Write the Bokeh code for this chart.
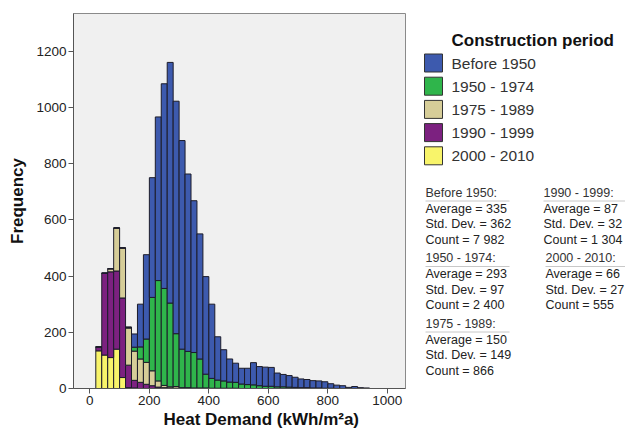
import numpy as np
from bokeh.plotting import figure
from bokeh.layouts import row
from bokeh.models import Range1d, ColumnDataSource, Title, FixedTicker
from bokeh.core.properties import value
from bokeh.embed import file_html
from bokeh.resources import INLINE

# ---------------- data ----------------
bin_width = 20
bin_start = list(range(20, 940, 20))  # 20 .. 920

before_1950 = [0, 0, 0, 0, 0, 0, 47, 152, 300, 426, 582, 728, 856, 827, 742, 631,
               540, 445, 347, 264, 154, 111, 82, 68, 56, 58, 79, 68, 68, 67, 49, 44,
               41, 36, 31, 29, 26, 25, 23, 16, 12, 10, 4, 7, 3, 2]
p1950_1974 = [0, 0, 0, 0, 0, 3, 14, 43, 83, 261, 357, 345, 298, 188, 137, 129,
              126, 103, 49, 35, 29, 26, 22, 21, 16, 14, 13, 10, 8, 8, 6, 6,
              5, 4, 3, 3, 2, 2, 1, 1, 0, 0, 0, 0, 0, 0]
p1975_1989 = [0, 0, 11, 153, 178, 132, 104, 83, 78, 53, 22, 8, 4, 6, 3, 3,
              2, 2, 2, 1, 1, 1, 1, 1, 0, 0, 0, 0, 0, 0, 0, 0,
              0, 0, 0, 0, 0, 0, 0, 0, 0, 0, 0, 0, 0, 0]
p1990_1999 = [14, 291, 305, 278, 283, 80, 27, 22, 15, 10, 5, 3, 2, 1, 0, 0,
              0, 0, 0, 0, 0, 0, 0, 0, 0, 0, 0, 0, 0, 0, 0, 0,
              0, 0, 0, 0, 0, 0, 0, 0, 0, 0, 0, 0, 0, 0]
p2000_2010 = [134, 119, 110, 140, 39, 3, 2, 0, 0, 0, 0, 0, 0, 0, 0, 0,
              0, 0, 0, 0, 0, 0, 0, 0, 0, 0, 0, 0, 0, 0, 0, 0,
              0, 0, 0, 0, 0, 0, 0, 0, 0, 0, 0, 0, 0, 0]

periods = ["Before 1950", "1950 - 1974", "1975 - 1989", "1990 - 1999", "2000 - 2010"]
colors = ["#3d5aae", "#2fb54b", "#d6cd98", "#7c2180", "#f8f46a"]

stat_average = [335, 293, 150, 87, 66]
stat_std = [362, 97, 149, 32, 27]
stat_count = [7982, 2400, 866, 1304, 555]

x_ticks = [0, 200, 400, 600, 800, 1000]
y_ticks = [0, 200, 400, 600, 800, 1000, 1200]

FONT = "Liberation Sans"

# ---------------- main histogram ----------------
src = ColumnDataSource(dict(
    x=[b + bin_width / 2 for b in bin_start],
    s0=p2000_2010, s1=p1990_1999, s2=p1975_1989, s3=p1950_1974, s4=before_1950,
))

p = figure(width=408, height=428, x_range=Range1d(-55, 1061), y_range=Range1d(0, 1334),
           output_backend="svg", toolbar_location=None,
           min_border_left=73, min_border_right=3, min_border_top=13, min_border_bottom=40)
p.background_fill_color = "#f0f0f0"
p.border_fill_color = "white"
p.outline_line_color = "#8a8a8a"
p.grid.visible = False

stack_cols = ["s0", "s1", "s2", "s3", "s4"]
stack_colors = [colors[4], colors[3], colors[2], colors[1], colors[0]]
p.vbar_stack(stack_cols, x="x", width=bin_width, source=src,
             fill_color=stack_colors, line_color="#1c1c2a", line_width=1)

for ax in (p.xaxis, p.yaxis):
    ax.minor_tick_line_color = None
    ax.major_tick_in = 0
    ax.major_tick_out = 5
    ax.axis_line_color = "#555555"
    ax.major_tick_line_color = "#555555"
    ax.major_label_text_font = FONT
    ax.major_label_text_font_size = "13.5px"
    ax.major_label_text_color = "#222222"
    ax.major_label_standoff = 2

p.xaxis.ticker = FixedTicker(ticks=x_ticks)
p.yaxis.ticker = FixedTicker(ticks=y_ticks)

p.yaxis.axis_label = "Frequency"
p.yaxis.axis_label_text_font = FONT
p.yaxis.axis_label_text_font_style = "bold"
p.yaxis.axis_label_text_font_size = "17px"
p.yaxis.axis_label_text_color = "#111111"
p.yaxis.axis_label_standoff = 6

p.add_layout(Title(text="Heat Demand (kWh/m\u00b2a)", align="left", offset=90, standoff=0,
                   text_font=FONT, text_font_style="bold", text_font_size="17px",
                   text_color="#111111"), "below")

# ---------------- legend + statistics panel ----------------
# frame of this panel is aligned with the histogram frame (page y 13..388)
p2 = figure(width=217, height=428, x_range=Range1d(408, 625), y_range=Range1d(388, 13),
            output_backend="svg", toolbar_location=None,
            x_axis_location=None, y_axis_location=None,
            min_border_left=0, min_border_right=0, min_border_top=13, min_border_bottom=40)
p2.outline_line_color = None
p2.grid.visible = False
p2.background_fill_color = "white"
p2.border_fill_color = "white"

# legend
leg_y0, leg_dy = 62.5, 23.2
leg_y = [leg_y0 + i * leg_dy for i in range(len(periods))]
p2.text(x=[451], y=[40], text=["Construction period"], text_font=value(FONT),
        text_font_style="bold", text_font_size="17px", text_color="#111111",
        text_baseline="middle", text_align="left")
p2.rect(x=[433] * len(periods), y=leg_y, width=18, height=18,
        fill_color=colors, line_color="#333333", line_width=1)
p2.text(x=[451] * len(periods), y=leg_y, text=periods, text_font=value(FONT),
        text_font_size="15.5px", text_color="#333333",
        text_baseline="middle", text_align="left")

# statistics blocks
block_x = [425, 425, 425, 543, 545]
block_y = [192, 257.5, 323, 192, 257.5]
tx, ty, tt = [], [], []
hx, hy, ht = [], [], []
ux0, ux1, uy = [], [], []
for i in range(len(periods)):
    bx, by = block_x[i], block_y[i]
    hx.append(bx); hy.append(by); ht.append(periods[i] + ":")
    ux0.append(bx); ux1.append(bx + 84); uy.append(by + 8.5)
    cnt = f"{stat_count[i]:,}".replace(",", " ")
    lines = [f"Average = {stat_average[i]}", f"Std. Dev. = {stat_std[i]}", f"Count = {cnt}"]
    for k, s in enumerate(lines):
        tx.append(bx); ty.append(by + 16 + k * 15.5); tt.append(s)

p2.segment(x0=ux0, y0=uy, x1=ux1, y1=uy, line_color="#c8c8c8", line_width=1)
p2.text(x=hx, y=hy, text=ht, text_font=value(FONT), text_font_size="12.5px",
        text_color="#333333", text_baseline="middle", text_align="left")
p2.text(x=tx, y=ty, text=tt, text_font=value(FONT), text_font_size="12.5px",
        text_color="#222222", text_baseline="middle", text_align="left")

layout = row(p, p2)
open("out.html", "w").write(file_html(layout, INLINE))
